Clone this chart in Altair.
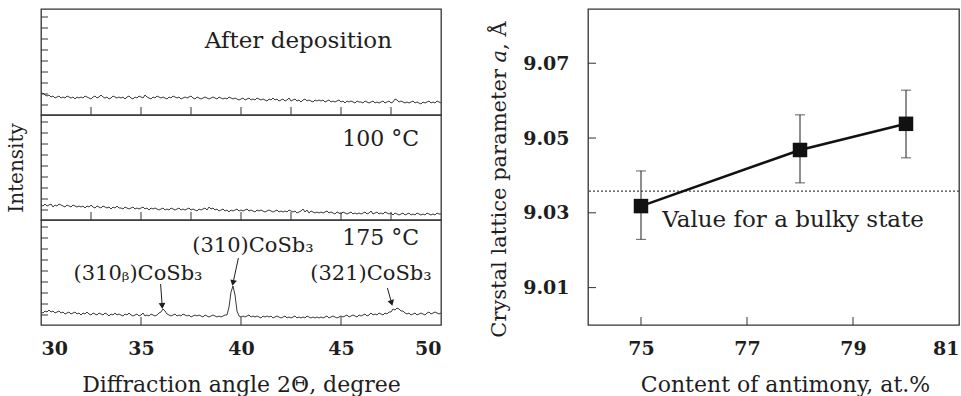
import altair as alt
import numpy as np
import pandas as pd

FONT = "DejaVu Serif"

# ---------------- XRD data (2Theta 30..50, step 0.1) ----------------
angle_start, angle_step, n_pts = 30.0, 0.1, 201
I_after = [
    21, 22, 20, 19, 20, 18, 19, 17, 18, 19, 17, 18, 17, 19, 18, 17, 18, 16, 18, 17,
    18, 17, 19, 18, 17, 16, 18, 19, 17, 18, 20, 18, 17, 18, 16, 17, 19, 18, 17, 18,
    17, 18, 16, 18, 19, 17, 16, 18, 17, 19, 18, 17, 20, 18, 17, 16, 18, 17, 19, 18,
    17, 18, 17, 16, 18, 17, 19, 18, 17, 18, 16, 17, 18, 17, 18, 19, 17, 16, 18, 17,
    16, 17, 18, 17, 16, 17, 18, 17, 16, 18, 17, 16, 17, 16, 18, 17, 16, 17, 16, 15,
    16, 17, 15, 16, 17, 15, 16, 15, 17, 16, 15, 16, 15, 14, 16, 15, 17, 15, 16, 14,
    15, 16, 14, 15, 17, 14, 15, 16, 14, 15, 13, 15, 16, 14, 15, 14, 13, 15, 14, 15,
    14, 15, 13, 14, 15, 13, 14, 13, 14, 15, 13, 14, 12, 14, 13, 14, 13, 12, 14, 13,
    13, 12, 14, 13, 12, 13, 14, 12, 13, 12, 13, 14, 12, 13, 14, 12, 13, 16, 15, 13,
    14, 13, 12, 13, 12, 13, 14, 12, 13, 12, 11, 13, 12, 13, 14, 12, 13, 12, 14, 13,
    12,
]
I_100 = [
    15, 14, 16, 14, 15, 16, 13, 15, 14, 16, 15, 14, 13, 15, 14, 13, 15, 14, 13, 14,
    13, 14, 12, 14, 13, 15, 13, 12, 14, 13, 12, 14, 13, 12, 13, 11, 13, 12, 14, 12,
    12, 11, 13, 12, 11, 12, 13, 11, 12, 11, 12, 13, 11, 12, 10, 12, 11, 12, 11, 10,
    11, 12, 10, 11, 10, 12, 11, 10, 11, 12, 10, 11, 10, 11, 12, 10, 11, 10, 9, 11,
    10, 11, 12, 10, 13, 11, 12, 10, 11, 9, 10, 11, 9, 10, 8, 10, 9, 10, 11, 9,
    10, 9, 10, 11, 9, 10, 9, 8, 10, 9, 10, 9, 8, 9, 10, 9, 8, 9, 10, 8,
    9, 8, 9, 8, 10, 9, 8, 9, 7, 8, 9, 11, 8, 10, 7, 9, 8, 7, 8, 7,
    8, 7, 8, 9, 7, 8, 7, 6, 8, 7, 6, 8, 7, 6, 7, 8, 6, 7, 6, 7,
    6, 7, 8, 6, 7, 9, 6, 7, 8, 6, 7, 6, 8, 7, 6, 7, 5, 7, 6, 5,
    6, 7, 5, 6, 7, 5, 6, 5, 7, 6, 5, 6, 5, 7, 6, 5, 6, 5, 7, 6,
    6,
]
I_175 = [
    13, 12, 14, 13, 15, 13, 14, 12, 13, 14, 12, 13, 11, 12, 13, 11, 12, 13, 11, 12,
    10, 12, 11, 13, 11, 10, 12, 11, 10, 12, 11, 10, 12, 11, 9, 11, 10, 12, 10, 11,
    10, 9, 11, 10, 12, 10, 9, 10, 11, 9, 10, 12, 9, 10, 9, 11, 10, 9, 10, 12,
    13, 16, 14, 11, 10, 9, 10, 11, 9, 10, 9, 11, 10, 9, 10, 8, 9, 10, 9, 10,
    9, 8, 10, 9, 8, 9, 10, 9, 8, 9, 8, 9, 10, 10, 18, 33, 39, 30, 14, 9,
    8, 9, 8, 9, 10, 8, 9, 8, 9, 8, 7, 9, 8, 9, 8, 9, 7, 8, 9, 8,
    7, 8, 9, 7, 8, 7, 8, 9, 7, 8, 7, 8, 7, 9, 8, 7, 8, 7, 8, 7,
    8, 7, 8, 9, 7, 8, 9, 8, 7, 8, 9, 8, 9, 10, 8, 9, 10, 9, 8, 10,
    9, 10, 11, 9, 10, 12, 10, 11, 10, 12, 11, 10, 12, 11, 13, 13, 16, 15, 17, 16,
    14, 14, 12, 11, 12, 10, 11, 12, 10, 11, 12, 11, 10, 12, 13, 11, 12, 13, 12, 11,
    12,
]
angles = np.round(angle_start + angle_step * np.arange(n_pts), 1)

panel_labels = ["After deposition", "100 °C", "175 °C"]
panel_label_pos = [(47.55, 74), (48.9, 81), (48.9, 87)]

peak_labels = ["(310ᵦ)CoSb₃", "(310)CoSb₃", "(321)CoSb₃"]
peak_label_x = [34.85, 40.6, 46.5]
peak_label_y = [51, 79, 51]
arrow_x0 = [35.98, 39.87, 47.32]
arrow_y0 = [41, 67, 37]
arrow_x1 = [36.06, 39.60, 47.53]
arrow_y1 = [19, 42, 22]
arrow_angle = [356, 12, 344]

left_ticks = [10, 21, 32, 43, 54, 65, 76, 87, 98]
minor_x_ticks = [32.5, 35, 37.5, 40, 42.5, 45, 47.5]
major_x_ticks = [35, 40, 45]
xrd_label_ticks = [30, 35, 40, 45, 50]

# ---------------- Lattice data ----------------
content = [75, 78, 80]
lattice = [9.0318, 9.0468, 9.0538]
err_lo = [9.0229, 9.0380, 9.0447]
err_hi = [9.0412, 9.0562, 9.0628]
bulk_value = 9.0358
bulk_label = "Value for a bulky state"
lat_yticks = [9.01, 9.03, 9.05, 9.07]
lat_xticks = [75, 77, 79]
lat_xlabels = [75, 77, 79, 81]
lat_ytitle = "Crystal lattice parameter 𝑎, Å"

LINE = "#3a3a3a"
FRAME = "#333333"
TXT = "#1e1e1e"
W_LEFT = 400
HEIGHTS = [106, 105, 105]
LBL = dict(labelFontSize=19, labelFontWeight="bold")


def xrd_panel(values, H, idx):
    xs = alt.Scale(domain=[30, 50], nice=False, zero=False)
    ys = alt.Scale(domain=[0, H], nice=False, zero=False)
    df = pd.DataFrame({"angle": angles, "I": values})
    if idx == 2:
        xaxis = alt.Axis(values=xrd_label_ticks, labelFlush=True, ticks=False,
                         domain=False, grid=False, labelPadding=14, **LBL,
                         title="Diffraction angle 2Θ, degree", titlePadding=16,
                         titleFontSize=22, titleFontWeight="normal")
    else:
        xaxis = None
    if idx == 1:
        yaxis = alt.Axis(labels=False, ticks=False, domain=False, grid=False,
                         title="Intensity", titlePadding=15, titleFontSize=20,
                         titleFontWeight="normal")
    else:
        yaxis = None

    def X(f):
        return alt.X(f, scale=xs, axis=xaxis)

    def Y(f):
        return alt.Y(f, scale=ys, axis=yaxis)

    line = alt.Chart(df).mark_line(color=LINE, strokeWidth=1).encode(
        x=X("angle:Q"), y=Y("I:Q"))
    lt = alt.Chart(pd.DataFrame({"I": left_ticks})).mark_rule(color=FRAME, strokeWidth=1).encode(
        y=Y("I:Q"), x=alt.value(0), x2=alt.value(7))
    bt_vals = major_x_ticks if idx == 2 else minor_x_ticks
    bt = alt.Chart(pd.DataFrame({"angle": bt_vals})).mark_rule(color=FRAME, strokeWidth=1).encode(
        x=X("angle:Q"), y=alt.value(H), y2=alt.value(H - 8))
    lx, ly = panel_label_pos[idx]
    lab = alt.Chart(pd.DataFrame({"angle": [lx], "I": [ly], "t": [panel_labels[idx]]})).mark_text(
        align="right", baseline="middle", font=FONT, fontSize=23 if idx == 0 else 22, color=TXT).encode(
        x=X("angle:Q"), y=Y("I:Q"), text="t:N")
    layers = [line, lt, bt, lab]
    if idx == 2:
        pk = alt.Chart(pd.DataFrame({"angle": peak_label_x, "I": peak_label_y, "t": peak_labels})).mark_text(
            align="center", baseline="middle", font=FONT, fontSize=21, color=TXT).encode(
            x=X("angle:Q"), y=Y("I:Q"), text="t:N")
        adf = pd.DataFrame({"angle": arrow_x0, "I": arrow_y0, "x1": arrow_x1, "y1": arrow_y1})
        ar = alt.Chart(adf).mark_rule(color=TXT, strokeWidth=1).encode(
            x=X("angle:Q"), y=Y("I:Q"), x2="x1:Q", y2="y1:Q")
        hdf = pd.DataFrame({"angle": arrow_x1, "I": arrow_y1, "a": arrow_angle})
        ah = alt.Chart(hdf).mark_point(shape="triangle-down", filled=True, size=45,
                                       color=TXT, opacity=1).encode(
            x=X("angle:Q"), y=Y("I:Q"), angle=alt.Angle("a:Q", scale=None))
        layers += [pk, ar, ah]
    return alt.layer(*layers).properties(width=W_LEFT, height=H)


left = alt.vconcat(
    xrd_panel(I_after, HEIGHTS[0], 0),
    xrd_panel(I_100, HEIGHTS[1], 1),
    xrd_panel(I_175, HEIGHTS[2], 2),
    spacing=0, bounds="flush",
)

# ---------------- Right panel ----------------
RW, RH = 371, 316
xs_r = alt.Scale(domain=[74, 81], nice=False, zero=False)
ys_r = alt.Scale(domain=[9.0, 9.0845], nice=False, zero=False)
ldf = pd.DataFrame({"c": content, "a": lattice, "lo": err_lo, "hi": err_hi})

xaxis_r = alt.Axis(values=lat_xlabels, labelFlush=True, ticks=False, domain=False, grid=False,
                   labelPadding=14, **LBL, title="Content of antimony, at.%",
                   titlePadding=16, titleFontSize=22, titleFontWeight="normal", titleX=197)
yaxis_r = alt.Axis(values=lat_yticks, format=".2f", ticks=False, domain=False, grid=False,
                   labelPadding=19, **LBL, title=lat_ytitle,
                   titlePadding=13, titleFontSize=21, titleFontWeight="normal", titleY=170)


def XR(f):
    return alt.X(f, scale=xs_r, axis=xaxis_r)


def YR(f):
    return alt.Y(f, scale=ys_r, axis=yaxis_r)


pts_line = alt.Chart(ldf).mark_line(color="#111", strokeWidth=2.5).encode(x=XR("c:Q"), y=YR("a:Q"))
err = alt.Chart(ldf).mark_rule(color=TXT, strokeWidth=1).encode(x=XR("c:Q"), y=YR("lo:Q"), y2="hi:Q")
cap_lo = alt.Chart(ldf).mark_tick(color=TXT, thickness=1, size=10, orient="horizontal").encode(
    x=XR("c:Q"), y=YR("lo:Q"))
cap_hi = alt.Chart(ldf).mark_tick(color=TXT, thickness=1, size=10, orient="horizontal").encode(
    x=XR("c:Q"), y=YR("hi:Q"))
sq = alt.Chart(ldf).mark_point(shape="square", filled=True, size=210, color="#111", opacity=1).encode(
    x=XR("c:Q"), y=YR("a:Q"))
bulk = alt.Chart(pd.DataFrame({"a": [bulk_value]})).mark_rule(
    color="#444", strokeWidth=1.3, strokeDash=[2, 2]).encode(y=YR("a:Q"))
btxt = alt.Chart(pd.DataFrame({"c": [75.4], "a": [9.0281], "t": [bulk_label]})).mark_text(
    align="left", baseline="middle", font=FONT, fontSize=23, color=TXT).encode(
    x=XR("c:Q"), y=YR("a:Q"), text="t:N")
ryt = alt.Chart(pd.DataFrame({"a": lat_yticks})).mark_rule(color=FRAME, strokeWidth=1).encode(
    y=YR("a:Q"), x=alt.value(0), x2=alt.value(8))
rxt = alt.Chart(pd.DataFrame({"c": lat_xticks})).mark_rule(color=FRAME, strokeWidth=1).encode(
    x=XR("c:Q"), y=alt.value(RH), y2=alt.value(RH - 8))

right = alt.layer(bulk, err, cap_lo, cap_hi, pts_line, sq, btxt, ryt, rxt).properties(width=RW, height=RH)

chart = alt.hconcat(left, right, spacing=44).properties(
    padding={"left": 5, "top": 8, "right": 0, "bottom": 0}
).configure_view(stroke=FRAME, strokeWidth=1.3).configure_axis(
    labelFont=FONT, titleFont=FONT, labelColor=TXT, titleColor=TXT
).configure_text(font=FONT)

chart.save("out.html", embed_options={"renderer": "svg", "actions": False})
